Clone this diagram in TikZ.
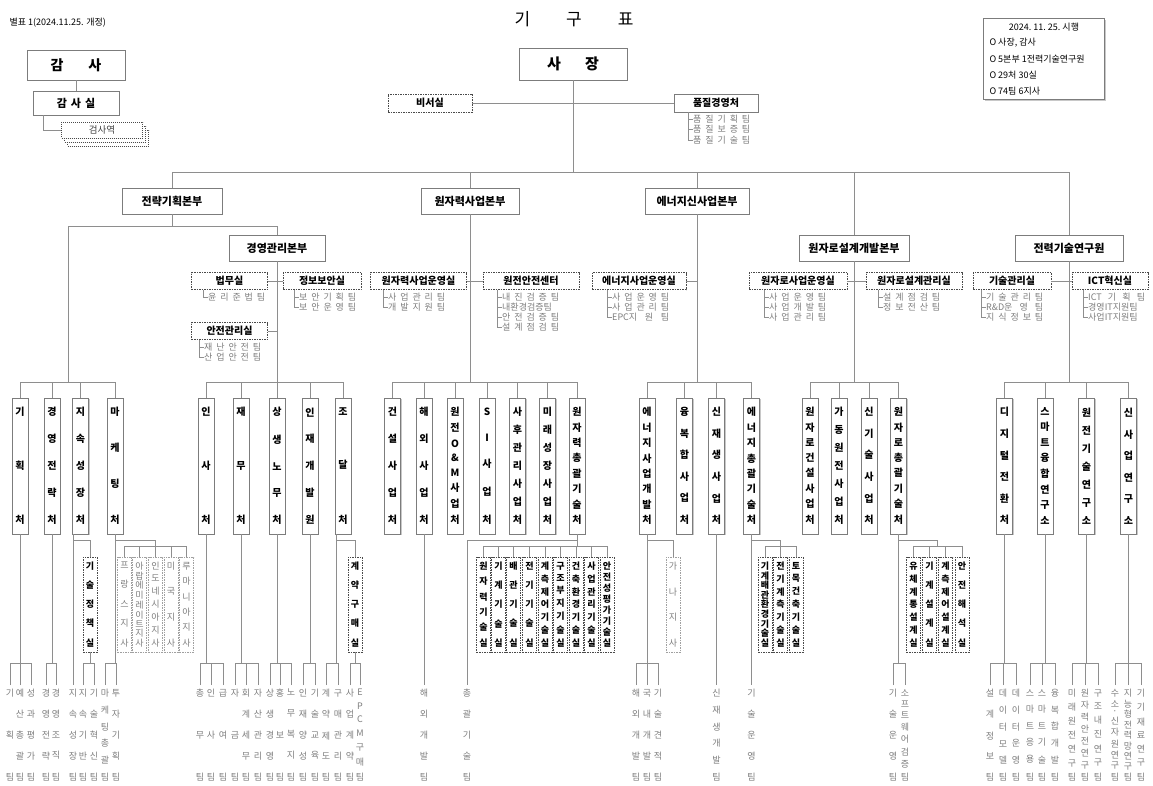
\documentclass[tikz,border=0pt]{standalone}
\usepackage{fontspec}
\setmainfont{Noto Sans CJK KR}
\usetikzlibrary{calc,shadows}
\definecolor{lncol}{HTML}{8E8E8E}
\definecolor{bdcol}{HTML}{7C7C7C}
\definecolor{txg}{HTML}{7E7E7E}
\definecolor{dkd}{HTML}{4A4A4A}
\definecolor{lgd}{HTML}{A0A0A0}
\definecolor{shdc}{HTML}{C8C8C8}
\newcommand\fs[1]{\fontsize{#1}{#1}\selectfont}
\newcommand\vt[3]{\parbox[c][#1][s]{#2}{\offinterlineskip\foreach \ch [count=\i] in {#3}{\ifnum\i>1 \vfill\fi\hbox to #2{\hss\ch\hss}}}}
\tikzset{
  ln/.style={draw=lncol, line width=0.7pt},
  shd/.style={drop shadow={shadow xshift=1.2pt, shadow yshift=-1.2pt, fill=shdc, opacity=1}},
  mbox/.style={draw=bdcol, fill=white, line width=0.8pt, inner sep=0pt, shd, minimum height=26pt, font=\bfseries\fs{11}},
  dbox/.style={draw=dkd, dash pattern=on 1.5pt off 1pt, line width=0.7pt, fill=white, inner sep=0pt, minimum height=17pt, font=\bfseries\fs{10}},
  vbx/.style={draw=bdcol, fill=white, line width=0.8pt, inner sep=0pt, shd, minimum width=16pt, minimum height=136pt, font=\bfseries\fs{10}},
  rbx/.style={draw=dkd, dash pattern=on 1.5pt off 1pt, line width=0.7pt, fill=white, inner sep=0pt, minimum width=14pt, minimum height=95pt, font=\bfseries\fs{9}},
  gbx/.style={draw=lgd, dash pattern=on 1.5pt off 1pt, line width=0.7pt, fill=white, inner sep=0pt, minimum width=14pt, minimum height=95pt, text=txg, font=\fs{9}},
  team/.style={inner xsep=0pt, inner ysep=4pt, anchor=north, text=txg, font=\fs{9}},
  item/.style={inner sep=0pt, anchor=west, text=txg, font=\fs{9}},
}
\newcommand\V[3]{\node[vbx] (#1) at (#2,466) {\vt{116pt}{16pt}{#3}};}
\newcommand\R[3]{\node[rbx] (#1) at (#2,604.5) {\vt{84pt}{14pt}{#3}};}
\newcommand\G[3]{\node[gbx] (#1) at (#2,604.5) {\vt{84pt}{14pt}{#3}};}
\newcommand\T[3]{\node[team] (#1) at (#2,685) {\vt{91pt}{12pt}{#3}};}
\newcommand\tick[1]{\draw[ln] (#1.north) -- (#1.north |- bT);}
\newcommand\up[1]{\draw[ln] (#1.north) -- (#1.north |- b2);}
\newcommand\dn[1]{\draw[ln] (#1.north) -- (#1.north |- b3);}
\newcommand\sub[6]{\foreach \tx [count=\k] in {#6} {
    \node[item] (#2\k) at (#3,{#4+(\k-1)*#5}) {\makebox[57pt][s]{\tx}};
    \draw[ln] ($(#1.south -| #2\k.west)+(-5,0)$) |- (#2\k.west);
  }}
\begin{document}
\begin{tikzpicture}[x=1pt,y=-1pt]
\useasboundingbox (0,0) rectangle (1153,786);
\fill[white] (0,0) rectangle (1153,786);
\coordinate (b0) at (0,172);
\coordinate (bA) at (0,226);
\coordinate (b2) at (0,382);
\coordinate (b4) at (0,540);
\coordinate (b3) at (0,546);
\coordinate (bT) at (0,663);

% header
\node[anchor=west, font=\fs{9}] (bp) at (6,23) {별표 1(2024.11.25. 개정)};
\node[font=\fs{17}] (title) at (574,19.5) {기\hspace{36pt}구\hspace{36pt}표};
\node[draw=bdcol, line width=0.7pt, minimum width=121pt, minimum height=81pt, anchor=north west, inner sep=0pt, shd, fill=white] (leg) at (983,18) {};
\node[font=\fs{9}] (lg0) at (1044,27) {2024.~11.~25.~시행};
\node[font=\fs{9}, anchor=west] (lg1) at (986,43) {O 사장, 감사};
\node[font=\fs{9}, anchor=west] (lg2) at (986,59) {O 5본부 1전력기술연구원};
\node[font=\fs{9}, anchor=west] (lg3) at (986,75) {O 29처 30실};
\node[font=\fs{9}, anchor=west] (lg4) at (986,91) {O 74팀 6지사};

% audit
\node[mbox, minimum width=98pt, minimum height=30pt, font=\bfseries\fs{14}] (gamsa) at (76,65) {감\hspace{25pt}사};
\node[mbox, minimum width=86pt, minimum height=24pt, font=\bfseries\fs{11}] (gamsasil) at (76,103) {감\hspace{4pt}사\hspace{4pt}실};
\draw[ln] (gamsa.south) -- (gamsasil.north);
\node[draw=dkd, dash pattern=on 1pt off 1pt, fill=white, minimum width=81pt, minimum height=16pt, inner sep=0pt] (gs3) at (108,138) {};
\node[draw=dkd, dash pattern=on 1pt off 1pt, fill=white, minimum width=81pt, minimum height=16pt, inner sep=0pt] (gs2) at (105,134) {};
\node[draw=dkd, dash pattern=on 1pt off 1pt, fill=white, minimum width=81pt, minimum height=16pt, inner sep=0pt, font=\fs{9.5}, text=black!75] (gs1) at (102,130) {검사역};
\draw[ln] ($(gamsasil.south west)+(11,0)$) |- (gs1.west);

% president
\node[mbox, minimum width=108pt, minimum height=32pt, font=\bfseries\fs{15}] (ceo) at (573,64) {사\hspace{24pt}장};
\node[dbox, minimum width=84pt, minimum height=18pt] (biseo) at (430,103) {비서실};
\node[mbox, minimum width=84pt, minimum height=18pt, font=\bfseries\fs{10}] (qm) at (716,103) {품질경영처};
\draw[ln] (biseo.east) -- (qm.west);
\sub{qm}{q}{693}{119}{10.5}{품 질 기 획 팀, 품 질 보 증 팀, 품 질 기 술 팀}

% headquarters
\node[mbox, minimum width=100pt] (hq1) at (172,201) {전략기획본부};
\node[mbox, minimum width=98pt] (hq2) at (470,201) {원자력사업본부};
\node[mbox, minimum width=104pt] (hq3) at (697,201) {에너지신사업본부};
\node[mbox, minimum width=96pt] (mg) at (277,248) {경영관리본부};
\node[mbox, minimum width=110pt] (hq4) at (854,248) {원자로설계개발본부};
\node[mbox, minimum width=108pt] (hq5) at (1069,248) {전력기술연구원};
\draw[ln] (ceo.south) -- (ceo.south |- b0);
\draw[ln] (hq1.north) -- (hq1.north |- b0) -- (hq5.north |- b0) -- (hq5.north);
\draw[ln] (hq2.north) -- (hq2.north |- b0);
\draw[ln] (hq3.north) -- (hq3.north |- b0);
\draw[ln] (hq4.north) -- (hq4.north |- b0);
\coordinate (jA) at (68,226);
\draw[ln] (hq1.south) -- (hq1.south |- bA);
\draw[ln] (mg.north) |- (jA) -- (jA |- b2);
\draw[ln] (mg.south) -- (mg.south |- b2);
\draw[ln] (hq2.south) -- (hq2.south |- b2);
\draw[ln] (hq3.south) -- (hq3.south |- b2);
\draw[ln] (hq4.south) -- (hq4.south |- b2);
\draw[ln] (hq5.south) -- (hq5.south |- b2);

% offices
\node[dbox, minimum width=76pt] (bm) at (229.5,281) {법무실};
\node[dbox, minimum width=78pt] (js) at (322,281) {정보보안실};
\node[dbox, minimum width=76pt] (an) at (229.5,331) {안전관리실};
\node[dbox, minimum width=96pt] (wo) at (418.5,281) {원자력사업운영실};
\node[dbox, minimum width=96pt] (wc) at (531,281) {원전안전센터};
\node[dbox, minimum width=94pt] (eo) at (639,281) {에너지사업운영실};
\node[dbox, minimum width=98pt] (ro) at (798,281) {원자로사업운영실};
\node[dbox, minimum width=96pt] (rd) at (914,281) {원자로설계관리실};
\node[dbox, minimum width=78pt] (tm) at (1012,281) {기술관리실};
\node[dbox, minimum width=76pt] (ict) at (1110,281) {ICT혁신실};
\draw[ln] (bm.east) -- (js.west);
\draw[ln] (an.east) -- (an.east -| mg.south);
\draw[ln] (wo.east) -- (wc.west);
\draw[ln] (eo.east) -- (eo.east -| hq3.south);
\draw[ln] (ro.east) -- (rd.west);
\draw[ln] (tm.east) -- (ict.west);
\sub{bm}{bmi}{208}{297}{10}{윤 리 준 법 팀}
\sub{js}{jsi}{299}{297}{10}{보 안 기 획 팀, 보 안 운 영 팀}
\sub{an}{ani}{204}{347}{10}{재 난 안 전 팀, 산 업 안 전 팀}
\sub{wo}{woi}{388}{297}{10}{사 업 관 리 팀, 개 발 지 원 팀}
\sub{wc}{wci}{502}{297}{10}{내 진 검 증 팀, 내환경검증팀, 안 전 검 증 팀, 설 계 점 검 팀}
\sub{eo}{eoi}{612}{297}{10}{사 업 운 영 팀, 사 업 관 리 팀, EPC지 원 팀}
\sub{ro}{roi}{769}{297}{10}{사 업 운 영 팀, 사 업 개 발 팀, 사 업 관 리 팀}
\sub{rd}{rdi}{883}{297}{10}{설 계 점 검 팀, 정 보 전 산 팀}
\sub{tm}{tmi}{986}{297}{10}{기 술 관 리 팀, R\&D운 영 팀, 지 식 정 보 팀}
\sub{ict}{icti}{1088}{297}{10}{ICT 기 획 팀, 경영IT지원팀, 사업IT지원팀}

% departments
\V{c_gh}{20}{기,획,처}
\V{c_gj}{52}{경,영,전,략,처}
\V{c_js}{80.5}{지,속,성,장,처}
\V{c_mk}{115}{마,케,팅,처}
\V{c_is}{206}{인,사,처}
\V{c_jm}{241}{재,무,처}
\V{c_ss}{277}{상,생,노,무,처}
\V{c_ij}{310}{인,재,개,발,원}
\V{c_jd}{343}{조,달,처}
\V{c_gs}{392.5}{건,설,사,업,처}
\V{c_hw}{424}{해,외,사,업,처}
\V{c_om}{455}{원,전,O,\&,M,사,업,처}
\V{c_si}{487}{S,I,사,업,처}
\V{c_sh}{517.5}{사,후,관,리,사,업,처}
\V{c_mr}{547.5}{미,래,성,장,사,업,처}
\V{c_wt}{577}{원,자,력,총,괄,기,술,처}
\V{c_ed}{647}{에,너,지,사,업,개,발,처}
\V{c_yb}{684.5}{융,복,합,사,업,처}
\V{c_sj}{716.5}{신,재,생,사,업,처}
\V{c_et}{751.5}{에,너,지,총,괄,기,술,처}
\V{c_rg}{810}{원,자,로,건,설,사,업,처}
\V{c_gd}{839}{가,동,원,전,사,업,처}
\V{c_sg}{869}{신,기,술,사,업,처}
\V{c_rt}{898.5}{원,자,로,총,괄,기,술,처}
\V{c_dx}{1004.5}{디,지,털,전,환,처}
\V{c_sm}{1045}{스,마,트,융,합,연,구,소}
\V{c_wg}{1086.5}{원,전,기,술,연,구,소}
\V{c_ns}{1128.5}{신,사,업,연,구,소}
\draw[ln] (c_gh.north |- b2) -- (c_mk.north |- b2);
\draw[ln] (c_is.north |- b2) -- (c_jd.north |- b2);
\draw[ln] (c_gs.north |- b2) -- (c_wt.north |- b2);
\draw[ln] (c_ed.north |- b2) -- (c_et.north |- b2);
\draw[ln] (c_rg.north |- b2) -- (c_rt.north |- b2);
\draw[ln] (c_dx.north |- b2) -- (c_ns.north |- b2);
\foreach \n in {c_gh,c_gj,c_js,c_mk,c_is,c_jm,c_ss,c_ij,c_jd,c_gs,c_hw,c_om,c_si,c_sh,c_mr,c_wt,c_ed,c_yb,c_sj,c_et,c_rg,c_gd,c_sg,c_rt,c_dx,c_sm,c_wg,c_ns}{\up{\n}}

% rooms and branches
\R{s_gc}{90}{기,술,정,책,실}
\G{g_fr}{124.5}{프,랑,스,지,사}
\G{g_ae}{139.5}{아,랍,에,미,레,이,트,지,사}
\G{g_id}{155.5}{인,도,네,시,아,지,사}
\G{g_us}{171}{미,국,지,사}
\G{g_ro}{186.5}{루,마,니,아,지,사}
\R{s_gy}{355}{계,약,구,매,실}
\R{n1}{483.5}{원,자,력,기,술,실}
\R{n2}{498.5}{기,계,기,술,실}
\R{n3}{513.5}{배,관,기,술,실}
\R{n4}{529.5}{전,기,기,술,실}
\R{n5}{545}{계,측,제,어,기,술,실}
\R{n6}{560.5}{구,조,부,지,기,술,실}
\R{n7}{576}{건,축,환,경,기,술,실}
\R{n8}{591.5}{사,업,관,리,기,술,실}
\R{n9}{607}{안,전,성,평,가,기,술,실}
\G{g_gn}{673}{가,나,지,사}
\R{e1}{765}{기,계,배,관,환,경,기,술,실}
\R{e2}{780.5}{전,기,계,측,기,술,실}
\R{e3}{796}{토,목,건,축,기,술,실}
\R{r1}{913.5}{유,체,계,통,설,계,실}
\R{r2}{929.5}{기,계,설,계,실}
\R{r3}{945.5}{계,측,제,어,설,계,실}
\R{r4}{962}{안,전,해,석,실}

% teams
\T{t1}{10}{기,획,팀}
\T{t2}{20}{예,산,총,괄,팀}
\T{t3}{31}{성,과,평,가,팀}
\T{t4}{46}{경,영,전,략,팀}
\T{t5}{56}{경,영,조,직,팀}
\T{t6}{73}{지,속,성,장,팀}
\T{t7}{83}{지,속,기,반,팀}
\T{t8}{94}{기,술,혁,신,팀}
\T{t9}{105}{마,케,팅,총,괄,팀}
\T{t10}{116}{투,자,기,획,팀}
\T{t11}{200}{총,무,팀}
\T{t12}{211}{인,사,팀}
\T{t13}{223}{급,여,팀}
\T{t14}{235}{자,금,팀}
\T{t15}{246}{회,계,세,무,팀}
\T{t16}{258}{자,산,관,리,팀}
\T{t17}{270}{상,생,경,영,팀}
\T{t18}{280}{홍,보,팀}
\T{t19}{291}{노,무,복,지,팀}
\T{t20}{303}{인,재,양,성,팀}
\T{t21}{315}{기,술,교,육,팀}
\T{t22}{326}{계,약,제,도,팀}
\T{t23}{338}{구,매,관,리,팀}
\T{t24}{350}{사,업,계,약,팀}
\T{t25}{360}{E,P,C,M,구,매,팀}
\T{t26}{424}{해,외,개,발,팀}
\T{t27}{467}{총,괄,기,술,팀}
\T{t28}{636}{해,외,개,발,팀}
\T{t29}{647}{국,내,개,발,팀}
\T{t30}{658}{기,술,견,적,팀}
\T{t31}{716.5}{신,재,생,개,발,팀}
\T{t32}{751.5}{기,술,운,영,팀}
\T{t33}{893}{기,술,운,영,팀}
\T{t34}{905}{소,프,트,웨,어,검,증,팀}
\T{t35}{990}{설,계,정,보,팀}
\T{t36}{1003}{데,이,터,모,델,팀}
\T{t37}{1016}{데,이,터,운,영,팀}
\T{t38}{1030}{스,마,트,응,용,팀}
\T{t39}{1042}{스,마,트,기,술,팀}
\T{t40}{1055}{융,복,합,개,발,팀}
\T{t41}{1072}{미,래,원,전,연,구,팀}
\T{t42}{1085}{원,자,력,안,전,연,구,팀}
\T{t43}{1098}{구,조,내,진,연,구,팀}
\T{t44}{1115}{수,소,·,신,자,원,연,구,팀}
\T{t45}{1128}{지,능,형,전,력,망,연,구,팀}
\T{t46}{1141}{기,기,재,료,연,구,팀}

% connectors to teams and rooms
\draw[ln] (c_gh.south) -- (c_gh.south |- bT);
\draw[ln] (t1.north |- bT) -- (t3.north |- bT);
\draw[ln] (c_gj.south) -- (c_gj.south |- bT);
\draw[ln] (t4.north |- bT) -- (t5.north |- bT);
\draw[ln] (c_js.south -| t6.north) -- (t6.north);
\draw[ln] (t6.north |- b4) -| (s_gc.north);
\draw[ln] (s_gc.south) -- (s_gc.south |- bT);
\draw[ln] (t7.north |- bT) -- (t8.north |- bT);
\draw[ln] (c_mk.south) -- (c_mk.south |- bT);
\draw[ln] (t9.north |- bT) -- (t10.north |- bT);
\draw[ln] (c_mk.south |- b4) -| (g_id.north |- b3);
\draw[ln] (g_fr.north |- b3) -- (g_ro.north |- b3);
\foreach \n in {g_fr,g_ae,g_id,g_us,g_ro}{\dn{\n}}
\draw[ln] (c_is.south) -- (c_is.south |- bT);
\draw[ln] (t11.north |- bT) -- (t13.north |- bT);
\draw[ln] (c_jm.south) -- (c_jm.south |- bT);
\draw[ln] (t14.north |- bT) -- (t16.north |- bT);
\draw[ln] (c_ss.south) -- (c_ss.south |- bT);
\draw[ln] (t17.north |- bT) -- (t19.north |- bT);
\draw[ln] (c_ij.south) -- (c_ij.south |- bT);
\draw[ln] (t20.north |- bT) -- (t21.north |- bT);
\draw[ln] ($(c_jd.south)+(-7,0)$) -- ($(c_jd.south |- bT)+(-7,0)$);
\draw[ln] (t22.north |- bT) -- (t23.north |- bT);
\draw[ln] ($(c_jd.south |- b4)+(-7,0)$) -| (s_gy.north);
\draw[ln] (s_gy.south) -- (s_gy.south |- bT);
\draw[ln] (t24.north |- bT) -- (t25.north |- bT);
\draw[ln] (c_hw.south) -- (t26.north);
\draw[ln] (c_wt.south) -- (c_wt.south |- b3);
\draw[ln] (c_wt.south |- b4) -| (t27.north);
\draw[ln] (n1.north |- b3) -- (n9.north |- b3);
\foreach \n in {n1,n2,n3,n4,n5,n6,n7,n8,n9}{\dn{\n}}
\draw[ln] (c_ed.south) -- (c_ed.south |- bT);
\draw[ln] (t28.north |- bT) -- (t30.north |- bT);
\draw[ln] (c_ed.south |- b4) -| (g_gn.north);
\draw[ln] (c_sj.south) -- (t31.north);
\draw[ln] (c_et.south) -- (t32.north);
\draw[ln] (c_et.south |- b4) -| (e2.north |- b3);
\draw[ln] (e1.north |- b3) -- (e3.north |- b3);
\foreach \n in {e1,e2,e3}{\dn{\n}}
\draw[ln] (c_rt.south) -- (c_rt.south |- bT);
\draw[ln] (t33.north |- bT) -- (t34.north |- bT);
\draw[ln] (c_rt.south |- b4) -| ($(r2.north |- b3)!0.5!(r3.north |- b3)$);
\draw[ln] (r1.north |- b3) -- (r4.north |- b3);
\foreach \n in {r1,r2,r3,r4}{\dn{\n}}
\draw[ln] (c_dx.south) -- (c_dx.south |- bT);
\draw[ln] (t35.north |- bT) -- (t37.north |- bT);
\draw[ln] (c_sm.south) -- (c_sm.south |- bT);
\draw[ln] (t38.north |- bT) -- (t40.north |- bT);
\draw[ln] (c_wg.south) -- (c_wg.south |- bT);
\draw[ln] (t41.north |- bT) -- (t43.north |- bT);
\draw[ln] (c_ns.south) -- (c_ns.south |- bT);
\draw[ln] (t44.north |- bT) -- (t46.north |- bT);
\foreach \n in {t1,t2,t3,t4,t5,t7,t8,t9,t10,t11,t12,t13,t14,t15,t16,t17,t18,t19,t20,t21,t22,t23,t24,t25,t28,t29,t30,t33,t34,t35,t36,t37,t38,t39,t40,t41,t42,t43,t44,t45,t46}{\tick{\n}}
\end{tikzpicture}
\end{document}
